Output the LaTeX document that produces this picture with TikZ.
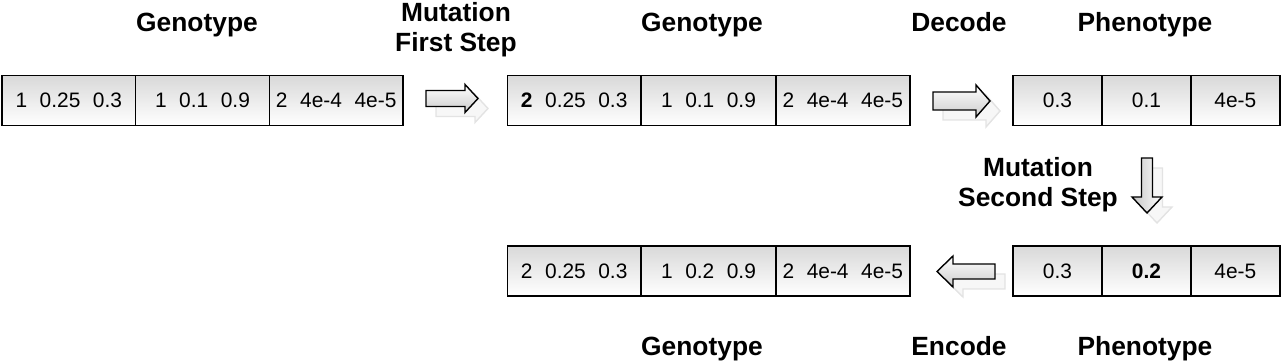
\documentclass[tikz,border=0pt]{standalone}
\usepackage{fontspec}
\setmainfont{Liberation Sans}
\newcommand\cellgap{\hspace{0.6em}}
% #1 fill style, #2 x, #3 y, #4 rotation, #5 length, #6 head length, #7 head half, #8 shaft half
\newcommand\blockarrow[8]{%
  \begin{scope}[shift={(#2+10,#3+10)},rotate=#4]
    \path[ghostarrow] (0,-#8) -- (#5-#6,-#8) -- (#5-#6,-#7) -- (#5,0) -- (#5-#6,#7) -- (#5-#6,#8) -- (0,#8) -- cycle;
  \end{scope}
  \begin{scope}[shift={(#2,#3)},rotate=#4]
    \path[mainarrow,#1] (0,-#8) -- (#5-#6,-#8) -- (#5-#6,-#7) -- (#5,0) -- (#5-#6,#7) -- (#5-#6,#8) -- (0,#8) -- cycle;
  \end{scope}}
\begin{document}
\begin{tikzpicture}[x=0.02cm,y=-0.02cm,
  cell/.style={draw=black, line width=0.8pt, top color=gray!30, bottom color=white,
    minimum height=1cm, inner sep=0pt, font=\fontsize{11.9}{14}\selectfont},
  wide/.style={cell, minimum width=2.68cm},
  narrow/.style={cell, minimum width=1.78cm},
  title/.style={font=\fontsize{15}{17}\selectfont\bfseries, align=center, inner sep=0pt, anchor=base},
  title2/.style={title, anchor=north},
  mainarrow/.style={draw=black, line width=0.8pt, line join=miter},
  ghostarrow/.style={draw=gray!22, line width=0.8pt, fill=gray!6},
  hshade/.style={top color=white, bottom color=gray!40},
  vshade/.style={left color=gray!45, right color=white}]
\useasboundingbox (0,0) rectangle (1281,364);
% titles
\node[title] (t1) at (197,31.5) {Genotype};
\node[title2] (t2) at (456,2.5) {Mutation\\First Step};
\node[title] (t3) at (702,31.5) {Genotype};
\node[title] (t4) at (959,31.5) {Decode};
\node[title] (t5) at (1145,31.5) {Phenotype};
\node[title2] (t6) at (1038,157.5) {Mutation\\Second Step};
\node[title] (t7) at (702,356) {Genotype};
\node[title] (t8) at (959,356) {Encode};
\node[title] (t9) at (1145,356) {Phenotype};
% row 1
\node[wide] (g1a) at (68.8,100.5) {1\cellgap0.25\cellgap0.3};
\node[wide] (g1b) at (202.5,100.5) {1\cellgap0.1\cellgap0.9};
\node[wide] (g1c) at (336.2,100.5) {2\cellgap4e-4\cellgap4e-5};
\node[wide] (g2a) at (574.2,100.5) {\textbf{2}\cellgap0.25\cellgap0.3};
\node[wide] (g2b) at (708.5,100.5) {1\cellgap0.1\cellgap0.9};
\node[wide] (g2c) at (842.8,100.5) {2\cellgap4e-4\cellgap4e-5};
\node[narrow] (p1a) at (1057.5,100.5) {0.3};
\node[narrow] (p1b) at (1146.5,100.5) {0.1};
\node[narrow] (p1c) at (1235.3,100.5) {4e-5};
% row 2
\node[wide] (g3a) at (574.2,271) {2\cellgap0.25\cellgap0.3};
\node[wide] (g3b) at (708.5,271) {1\cellgap0.2\cellgap0.9};
\node[wide] (g3c) at (842.8,271) {2\cellgap4e-4\cellgap4e-5};
\node[narrow] (p2a) at (1057.5,271) {0.3};
\node[narrow] (p2b) at (1146.5,271) {\textbf{0.2}};
\node[narrow] (p2c) at (1235.3,271) {4e-5};
% arrows
\blockarrow{hshade}{426}{98.5}{0}{52}{13}{14}{8}
\blockarrow{hshade}{933}{101}{0}{57}{14}{16}{9}
\blockarrow{vshade}{1147}{158}{-90}{55}{16}{15}{5.5}
\blockarrow{hshade}{995}{271.5}{180}{58}{16}{15.5}{7.5}
\end{tikzpicture}
\end{document}
